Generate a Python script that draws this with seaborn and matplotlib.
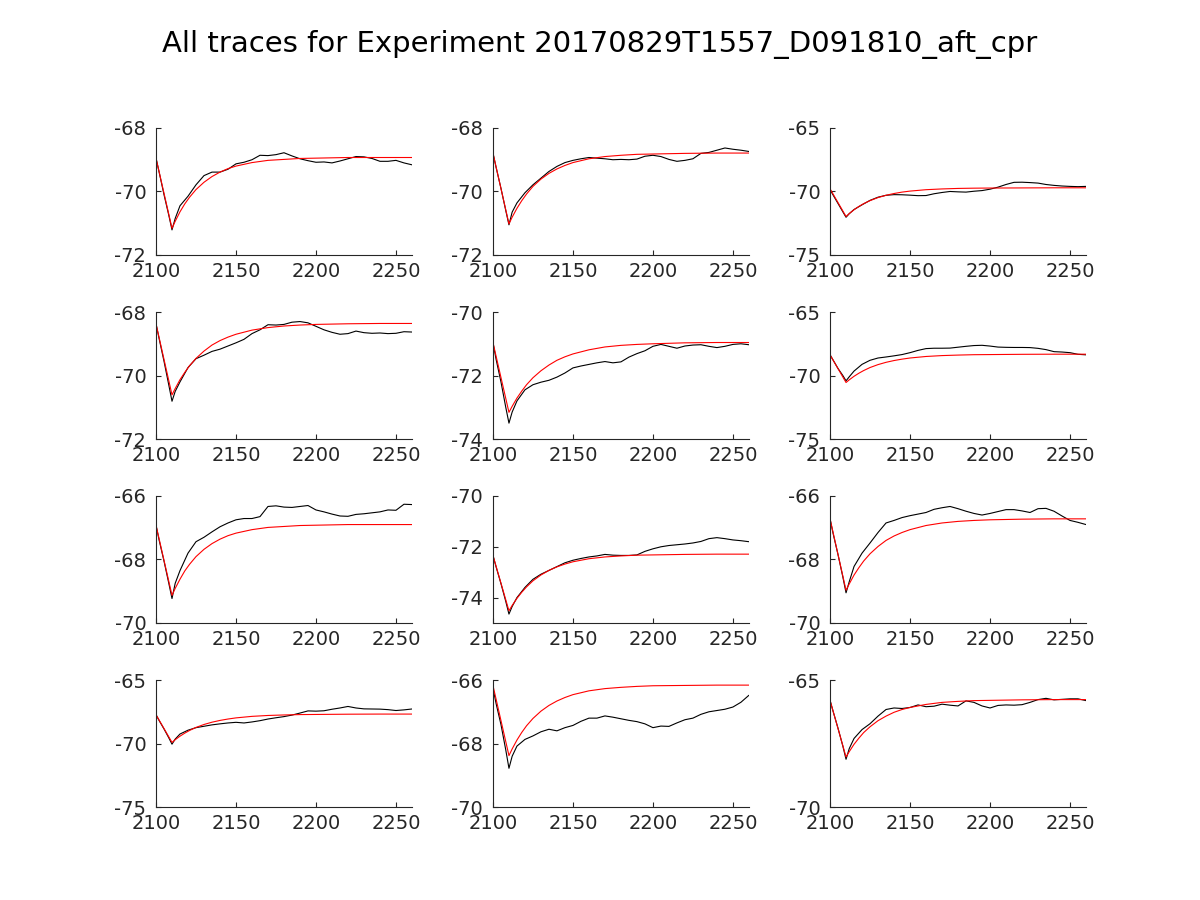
import matplotlib
matplotlib.use("Agg")
import matplotlib.pyplot as plt
import seaborn as sns
import pandas as pd

title = "All traces for Experiment 20170829T1557_D091810_aft_cpr"

x_trace = [2100, 2102, 2105, 2108, 2110, 2112, 2115, 2120, 2125, 2130, 2135, 2140,
           2145, 2150, 2155, 2160, 2165, 2170, 2175, 2180, 2185, 2190, 2195, 2200,
           2205, 2210, 2215, 2220, 2225, 2230, 2235, 2240, 2245, 2250, 2255, 2260]
x_fit = [2100, 2110, 2112, 2115, 2118, 2121, 2125, 2130, 2135, 2140, 2145, 2150,
         2160, 2170, 2180, 2190, 2200, 2220, 2240, 2260]

trace_1 = [-68.95, -69.4, -70.1, -70.75, -71.21, -70.85, -70.45, -70.15, -69.79, -69.5, -69.39, -69.39,
           -69.3, -69.13, -69.08, -69.0, -68.86, -68.87, -68.84, -68.78, -68.88, -68.97, -69.03, -69.08,
           -69.07, -69.1, -69.04, -68.97, -68.9, -68.91, -68.96, -69.05, -69.05, -69.02, -69.1, -69.16]
fit_1 = [-68.95, -71.16, -70.94, -70.64, -70.39, -70.18, -69.94, -69.71, -69.53, -69.39, -69.28, -69.20,
         -69.09, -69.02, -68.99, -68.96, -68.95, -68.93, -68.93, -68.93]

trace_2 = [-68.79, -69.25, -69.9, -70.6, -71.05, -70.65, -70.36, -70.04, -69.79, -69.58, -69.37, -69.21,
           -69.09, -69.02, -68.97, -68.93, -68.95, -68.97, -69.0, -68.99, -69.0, -68.98, -68.89, -68.86,
           -68.9, -68.99, -69.05, -69.02, -68.97, -68.8, -68.77, -68.7, -68.63, -68.67, -68.7, -68.74]
fit_2 = [-68.79, -71.02, -70.81, -70.53, -70.29, -70.08, -69.84, -69.61, -69.43, -69.29, -69.18, -69.09,
         -68.97, -68.90, -68.86, -68.83, -68.82, -68.80, -68.79, -68.79]

trace_3 = [-69.85, -70.3, -70.95, -71.6, -72.03, -71.75, -71.42, -71.05, -70.7, -70.45, -70.3, -70.25,
           -70.26, -70.29, -70.33, -70.32, -70.18, -70.08, -70.0, -70.03, -70.05, -69.98, -69.93, -69.82,
           -69.66, -69.45, -69.28, -69.27, -69.3, -69.34, -69.45, -69.52, -69.57, -69.6, -69.62, -69.6]
fit_3 = [-69.79, -71.97, -71.74, -71.44, -71.18, -70.96, -70.72, -70.48, -70.30, -70.16, -70.05, -69.97,
         -69.86, -69.80, -69.76, -69.74, -69.73, -69.72, -69.71, -69.71]

trace_4 = [-68.37, -68.85, -69.55, -70.3, -70.81, -70.5, -70.2, -69.75, -69.47, -69.36, -69.24, -69.17,
           -69.07, -68.97, -68.86, -68.68, -68.56, -68.4, -68.41, -68.39, -68.32, -68.3, -68.34, -68.45,
           -68.56, -68.64, -68.7, -68.68, -68.6, -68.65, -68.67, -68.66, -68.68, -68.67, -68.62, -68.63]
fit_4 = [-68.37, -70.61, -70.41, -70.13, -69.90, -69.69, -69.46, -69.23, -69.04, -68.90, -68.79, -68.70,
         -68.57, -68.49, -68.44, -68.41, -68.39, -68.37, -68.36, -68.36]

trace_5 = [-70.96, -71.5, -72.2, -73.0, -73.5, -73.15, -72.8, -72.45, -72.29, -72.21, -72.15, -72.05,
           -71.92, -71.76, -71.7, -71.65, -71.6, -71.56, -71.6, -71.57, -71.42, -71.31, -71.22, -71.08,
           -71.02, -71.08, -71.14, -71.07, -71.04, -71.03, -71.08, -71.12, -71.08, -71.02, -71.0, -71.03]
fit_5 = [-70.96, -73.16, -72.97, -72.71, -72.49, -72.29, -72.07, -71.85, -71.67, -71.52, -71.41, -71.32,
         -71.19, -71.10, -71.05, -71.02, -71.00, -70.97, -70.96, -70.96]

trace_6 = [-68.37, -68.8, -69.45, -70.0, -70.42, -70.1, -69.65, -69.12, -68.8, -68.62, -68.54, -68.45,
           -68.35, -68.2, -68.02, -67.88, -67.85, -67.85, -67.84, -67.77, -67.7, -67.64, -67.62, -67.68,
           -67.76, -67.78, -67.79, -67.79, -67.8, -67.86, -67.96, -68.12, -68.15, -68.2, -68.33, -68.37]
fit_6 = [-68.37, -70.55, -70.34, -70.06, -69.82, -69.61, -69.37, -69.14, -68.96, -68.82, -68.71, -68.62,
         -68.50, -68.43, -68.39, -68.36, -68.35, -68.33, -68.32, -68.32]

trace_7 = [-66.92, -67.4, -68.05, -68.75, -69.23, -68.75, -68.35, -67.8, -67.44, -67.3, -67.13, -66.97,
           -66.85, -66.75, -66.71, -66.71, -66.65, -66.33, -66.31, -66.35, -66.36, -66.33, -66.3, -66.44,
           -66.5, -66.57, -66.63, -66.64, -66.58, -66.56, -66.53, -66.5, -66.44, -66.45, -66.26, -66.27]
fit_7 = [-66.92, -69.13, -68.91, -68.62, -68.36, -68.15, -67.91, -67.68, -67.50, -67.36, -67.25, -67.17,
         -67.06, -66.99, -66.96, -66.93, -66.92, -66.90, -66.90, -66.90]

trace_8 = [-72.34, -72.8, -73.45, -74.15, -74.65, -74.35, -74.0, -73.6, -73.28, -73.08, -72.93, -72.78,
           -72.63, -72.53, -72.46, -72.4, -72.36, -72.3, -72.33, -72.34, -72.34, -72.32, -72.18, -72.08,
           -72.0, -71.95, -71.92, -71.89, -71.85, -71.79, -71.68, -71.64, -71.68, -71.73, -71.76, -71.8]
fit_8 = [-72.34, -74.52, -74.31, -74.03, -73.79, -73.58, -73.34, -73.11, -72.93, -72.79, -72.68, -72.59,
         -72.47, -72.40, -72.36, -72.33, -72.32, -72.30, -72.29, -72.29]

trace_9 = [-66.72, -67.2, -67.85, -68.55, -69.05, -68.7, -68.22, -67.8, -67.48, -67.15, -66.85, -66.77,
           -66.68, -66.62, -66.57, -66.52, -66.42, -66.37, -66.33, -66.4, -66.48, -66.55, -66.6, -66.55,
           -66.49, -66.43, -66.43, -66.47, -66.52, -66.4, -66.39, -66.48, -66.63, -66.77, -66.83, -66.9]
fit_9 = [-66.72, -68.97, -68.77, -68.49, -68.26, -68.05, -67.82, -67.59, -67.40, -67.26, -67.15, -67.06,
         -66.93, -66.85, -66.80, -66.77, -66.75, -66.73, -66.72, -66.72]

trace_10 = [-67.73, -68.2, -68.85, -69.55, -70.05, -69.65, -69.25, -68.95, -68.75, -68.64, -68.53, -68.45,
            -68.38, -68.33, -68.38, -68.3, -68.2, -68.07, -67.97, -67.88, -67.76, -67.6, -67.43, -67.45,
            -67.42, -67.3, -67.2, -67.08, -67.2, -67.27, -67.28, -67.29, -67.33, -67.4, -67.35, -67.28]
fit_10 = [-67.73, -69.91, -69.70, -69.42, -69.18, -68.97, -68.73, -68.50, -68.32, -68.18, -68.07, -67.98,
          -67.86, -67.79, -67.75, -67.72, -67.71, -67.69, -67.68, -67.68]

trace_11 = [-66.25, -66.75, -67.4, -68.2, -68.78, -68.4, -68.08, -67.87, -67.76, -67.63, -67.55, -67.6,
            -67.5, -67.43, -67.3, -67.2, -67.2, -67.13, -67.17, -67.22, -67.27, -67.31, -67.38, -67.5,
            -67.45, -67.46, -67.35, -67.25, -67.2, -67.08, -67.0, -66.96, -66.92, -66.85, -66.7, -66.48]
fit_11 = [-66.17, -68.38, -68.17, -67.89, -67.65, -67.44, -67.21, -66.98, -66.80, -66.66, -66.55, -66.46,
          -66.34, -66.27, -66.23, -66.20, -66.18, -66.17, -66.16, -66.16]

trace_12 = [-65.8, -66.25, -66.9, -67.6, -68.12, -67.7, -67.3, -66.95, -66.72, -66.42, -66.16, -66.1,
            -66.12, -66.08, -65.98, -66.05, -66.03, -65.95, -65.99, -66.02, -65.82, -65.88, -66.02, -66.1,
            -66.0, -65.98, -65.99, -65.97, -65.88, -65.77, -65.72, -65.78, -65.76, -65.74, -65.74, -65.81]
fit_12 = [-65.8, -68.03, -67.82, -67.53, -67.29, -67.07, -66.84, -66.60, -66.42, -66.27, -66.16, -66.08,
          -65.96, -65.88, -65.84, -65.81, -65.80, -65.78, -65.77, -65.77]

traces = [trace_1, trace_2, trace_3, trace_4, trace_5, trace_6,
          trace_7, trace_8, trace_9, trace_10, trace_11, trace_12]
fits = [fit_1, fit_2, fit_3, fit_4, fit_5, fit_6,
        fit_7, fit_8, fit_9, fit_10, fit_11, fit_12]

y_limits = [(-72, -68), (-72, -68), (-75, -65),
            (-72, -68), (-74, -70), (-75, -65),
            (-70, -66), (-75, -70), (-70, -66),
            (-75, -65), (-70, -66), (-70, -65)]
y_ticks = [[-72, -70, -68], [-72, -70, -68], [-75, -70, -65],
           [-72, -70, -68], [-74, -72, -70], [-75, -70, -65],
           [-70, -68, -66], [-74, -72, -70], [-70, -68, -66],
           [-75, -70, -65], [-70, -68, -66], [-70, -65]]
x_ticks = [2100, 2150, 2200, 2250]
x_limits = (2100, 2260)

sns.set_style("ticks")
plt.rcParams["font.family"] = ["DejaVu Sans"]
plt.rcParams["axes.unicode_minus"] = False

axis_color = "#262626"
fig = plt.figure(figsize=(12, 9), dpi=100)

lefts = [0.1300, 0.4108, 0.6917]
bottoms = [0.7167, 0.5122, 0.3078, 0.1033]
width, height = 0.2133, 0.1411

for i in range(12):
    r, c = divmod(i, 3)
    ax = fig.add_axes([lefts[c], bottoms[r], width, height])
    df_t = pd.DataFrame({"t": x_trace, "v": traces[i]})
    df_f = pd.DataFrame({"t": x_fit, "v": fits[i]})
    sns.lineplot(data=df_t, x="t", y="v", ax=ax, color="black", linewidth=0.8,
                 estimator=None, sort=False)
    sns.lineplot(data=df_f, x="t", y="v", ax=ax, color="red", linewidth=0.8,
                 estimator=None, sort=False)
    ax.set_xlim(*x_limits)
    ax.set_ylim(*y_limits[i])
    ax.set_xticks(x_ticks)
    ax.set_yticks(y_ticks[i])
    ax.set_xlabel("")
    ax.set_ylabel("")
    for s in ["top", "right"]:
        ax.spines[s].set_visible(False)
    for s in ["left", "bottom"]:
        ax.spines[s].set_color(axis_color)
        ax.spines[s].set_linewidth(0.8)
    ax.tick_params(direction="in", length=3.5, width=0.8, colors=axis_color,
                   labelsize=14, labelcolor=axis_color)
    ax.tick_params(axis="y", pad=7)
    ax.tick_params(axis="x", pad=5)

fig.suptitle(title, fontsize=21, y=0.967, color="black")
fig.savefig("out.png", dpi=100)
